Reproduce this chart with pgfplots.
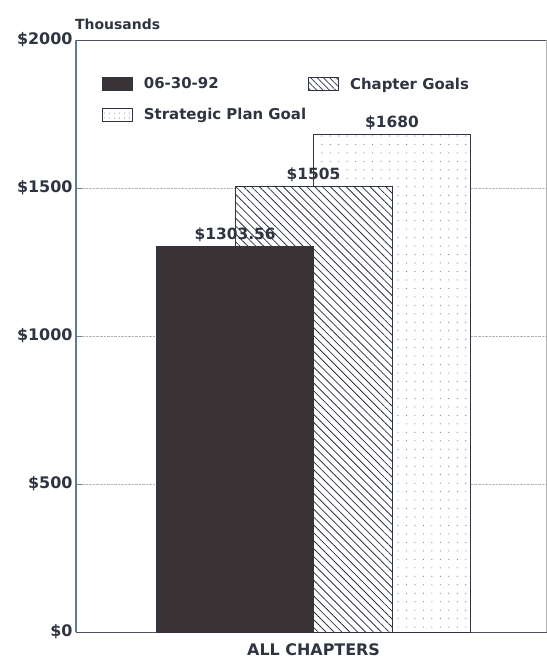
\documentclass[border=0pt]{standalone}
\usepackage{pgfplots}
\pgfplotsset{compat=1.18}
\usepackage{fontspec}
\setmainfont{DejaVu Sans}
\usetikzlibrary{patterns.meta}
\definecolor{barDark}{HTML}{3B3437}
\definecolor{inkC}{HTML}{2E3440}
\definecolor{axisBlue}{HTML}{5C7A92}

\begin{document}
\begin{tikzpicture}
\begin{axis}[
  at={(0,0)}, anchor=south west,
  scale only axis, clip=false,
  width=470bp, height=592bp,
  xmin=-1.513, xmax=1.48,
  ymin=0, ymax=2000,
  ytick={0,500,1000,1500,2000},
  yticklabels={\$0,\$500,\$1000,\$1500,\$2000},
  xtick={0}, xticklabels={ALL CHAPTERS},
  major x tick style={draw=none},
  ytick pos=left,
  tick align=inside, major tick length=6bp,
  ymajorgrids, grid style={densely dotted, gray!60, line width=0.6pt},
  axis line style={inkC!85, line width=0.9pt},
  yticklabel style={font=\fontsize{16}{18}\selectfont\bfseries, text=inkC},
  xticklabel style={font=\fontsize{16}{18}\selectfont\bfseries, text=inkC, yshift=-2bp},
  ybar, bar width=1, bar shift=0pt,
  legend columns=2,
  legend cell align=left,
  legend image code/.code={\draw[#1] (0bp,-6.5bp) rectangle (30bp,6.5bp);},
  legend style={at={(0.055,0.94)}, anchor=north west, draw=none, fill=none,
    inner sep=0pt, row sep=14bp, text=inkC,
    font=\fontsize{15}{17}\selectfont\bfseries,
    /tikz/every odd column/.append style={column sep=9bp},
    /tikz/every even column/.append style={column sep=0bp}},
  nodes near coords={\$\pgfmathprintnumber[assume math mode=true,fixed,precision=2,1000 sep={}]{\pgfplotspointmeta}},
  every node near coord/.append style={text=inkC, anchor=south, yshift=1bp,
    font=\fontsize{15.5}{17}\selectfont\bfseries},
]
\addlegendimage{draw=inkC, fill=barDark, line width=0.9pt}
\addlegendentry{06-30-92}
\addlegendimage{draw=inkC, fill=white, line width=0.9pt,
  postaction={pattern={Lines[angle=-45,distance=4.5pt,line width=0.7pt]}, pattern color=inkC}}
\addlegendentry{Chapter Goals}
\addlegendimage{draw=inkC, fill=white, line width=0.9pt,
  postaction={pattern={Dots[distance=5pt,radius=0.55pt]}, pattern color=gray}}
\addlegendentry{Strategic Plan Goal}

% back to front: plan goal, chapter goals, current value
\addplot[forget plot, draw=inkC, fill=white, line width=0.9pt,
  postaction={pattern={Dots[distance=8.5pt,radius=0.6pt]}, pattern color=gray}]
  coordinates {(0.5,1680)};
\addplot[forget plot, draw=inkC, fill=white, line width=0.9pt,
  postaction={pattern={Lines[angle=-45,distance=5.6pt,line width=0.8pt]}, pattern color=inkC}]
  coordinates {(0,1505)};
\addplot[forget plot, draw=inkC, fill=barDark, line width=0.9pt]
  coordinates {(-0.5,1303.56)};

\draw[axisBlue, line width=1.2pt] (rel axis cs:0,0) -- (rel axis cs:0,1);
\draw[gray!60, line width=0.8pt] (rel axis cs:1,0) -- (rel axis cs:1,1);
\node[anchor=south west, inner sep=0pt, text=inkC,
  font=\fontsize{14}{16}\selectfont\bfseries]
  at ([xshift=-1bp,yshift=10bp]rel axis cs:0,1) {Thousands};
\end{axis}
\pgfresetboundingbox
\path (-76bp,-29bp) rectangle (471bp,632bp);
\end{tikzpicture}
\end{document}
